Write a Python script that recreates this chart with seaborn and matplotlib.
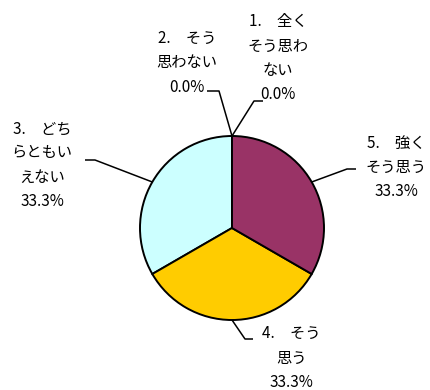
import numpy as np
import matplotlib
matplotlib.use("Agg")
import matplotlib.pyplot as plt
import seaborn as sns

# survey answers and their share (%)
categories = ["1.　全く\nそう思わ\nない", "2.　そう\n思わない", "3.　どち\nらともい\nえない",
              "4.　そう\n思う", "5.　強く\nそう思う"]
shares = [0.0, 0.0, 33.3, 33.3, 33.3]
colors = ["#9999FF", "#993366", "#CCFFFF", "#FFCC00", "#993366"]

sns.set_theme(style="white")
plt.rcParams["font.family"] = ["Noto Sans CJK JP", "DejaVu Sans"]

W, H = 431, 390
CX, CY, R = 232, 228, 92  # pie centre / radius in pixels


def px(x, y):
    return (x - CX) / R, (CY - y) / R


fig = plt.figure(figsize=(W / 100, H / 100), dpi=100)
ax = fig.add_axes([0, 0, 1, 1])

wedges, _ = ax.pie(shares, colors=colors, startangle=90, counterclock=True,
                   radius=1, wedgeprops=dict(edgecolor="black", linewidth=1.4))
ax.set_xlim(-CX / R, (W - CX) / R)
ax.set_ylim(-(H - CY) / R, CY / R)
ax.set_aspect("equal", adjustable="box")
ax.axis("off")

# label layout: text centre, elbow of leader, end of leader (pixels)
layout = [
    ((278, 58), (254, 101), (263, 101)),
    ((187, 63), (219, 91), (207, 91)),
    ((42, 165), (95, 160), (85, 160)),
    ((291, 358), (245, 339), (253, 339)),
    ((396, 167), (347, 169), (356, 169)),
]

for w, cat, val, (tc, el, en) in zip(wedges, categories, shares, layout):
    mid = np.deg2rad((w.theta1 + w.theta2) / 2)
    ex, ey = np.cos(mid), np.sin(mid)
    ax.plot([ex, px(*el)[0], px(*en)[0]], [ey, px(*el)[1], px(*en)[1]],
            color="black", lw=1.1, solid_capstyle="butt", zorder=3)
    tx, ty = px(*tc)
    ax.text(tx, ty, f"{cat}\n{val:.1f}%", ha="center", va="center",
            multialignment="center", fontsize=11, linespacing=1.55, color="black")

fig.savefig("out.png", dpi=100, facecolor="white")
